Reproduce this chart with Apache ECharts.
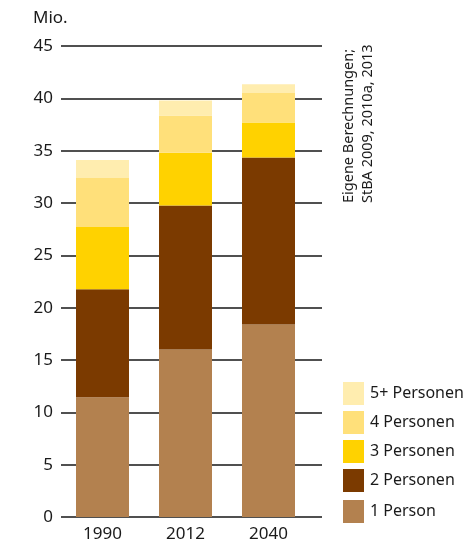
<!DOCTYPE html>
<html><head><meta charset="utf-8">
<script src="https://cdn.jsdelivr.net/npm/echarts@6/dist/echarts.min.js"></script>
<style>html,body{margin:0;padding:0;background:#fff}#c{width:467px;height:544px}</style>
</head><body><div id="c"></div>
<script>
const categories = ['1990', '2012', '2040'];
const p1 = [11.45, 16.0, 18.4];
const p2 = [10.3, 13.75, 15.95];
const p3 = [5.95, 5.05, 3.35];
const p4 = [4.7, 3.55, 2.8];
const p5 = [1.7, 1.45, 0.85];
const seriesNames = ['1 Person', '2 Personen', '3 Personen', '4 Personen', '5+ Personen'];
const colors = ['#B3814F', '#7B3A00', '#FFD200', '#FFE07A', '#FFEDAF'];
const yTicks = { min: 0, max: 45, interval: 5 };
const unitLabel = 'Mio.';
const sourceText = 'Eigene Berechnungen;\nStBA 2009, 2010a, 2013';

const FONT = '"Noto Sans", sans-serif';
const TXT = '#1a1a1a';
const values = [p1, p2, p3, p4, p5];
const legendBase = {
  orient: 'vertical', left: 338, icon: 'rect', itemWidth: 21, itemHeight: 23, itemGap: 6,
  textStyle: { color: TXT, fontFamily: FONT, fontSize: 16, padding: [0, 0, 0, 1] },
  selectedMode: false
};

const chart = echarts.init(document.getElementById('c'), null, { renderer: 'canvas' });
chart.setOption({
  animation: false,
  backgroundColor: '#fff',
  grid: [
    { left: 61, top: 46, width: 249, bottom: 27 },
    { left: 61, top: 46, width: 261, bottom: 27 }
  ],
  xAxis: [
    { type: 'category', gridIndex: 0, data: categories,
      axisLine: { show: false }, axisTick: { show: false },
      axisLabel: { color: TXT, fontFamily: FONT, fontSize: 17, margin: 9 } },
    { type: 'category', gridIndex: 1, data: categories, show: false }
  ],
  yAxis: [
    { type: 'value', gridIndex: 0, min: yTicks.min, max: yTicks.max, interval: yTicks.interval,
      axisLine: { show: false }, axisTick: { show: false }, splitLine: { show: false },
      axisLabel: { color: TXT, fontFamily: FONT, fontSize: 17, margin: 8 } },
    { type: 'value', gridIndex: 1, min: yTicks.min, max: yTicks.max, interval: yTicks.interval,
      axisLine: { show: false }, axisTick: { show: false }, axisLabel: { show: false },
      splitLine: { show: true, lineStyle: { color: '#505050', width: 2 } } }
  ],
  legend: [
    Object.assign({}, legendBase, { top: 377,
      data: ['5+ Personen', '4 Personen', '3 Personen', '2 Personen'] }),
    Object.assign({}, legendBase, { top: 495, data: ['1 Person'] })
  ],
  graphic: [
    { type: 'text', left: 33, top: 10,
      style: { text: unitLabel, fill: TXT, font: '17px ' + FONT } },
    { type: 'text', x: 358, y: 203, rotation: Math.PI / 2,
      style: { text: sourceText, fill: TXT, font: '14.5px ' + FONT, lineHeight: 19,
        textAlign: 'left', textVerticalAlign: 'middle' } }
  ],
  series: seriesNames.map((n, i) => ({
    name: n, type: 'bar', stack: 'a', xAxisIndex: 0, yAxisIndex: 0,
    barWidth: 53, data: values[i], itemStyle: { color: colors[i] }, z: 3
  }))
});
</script></body></html>
